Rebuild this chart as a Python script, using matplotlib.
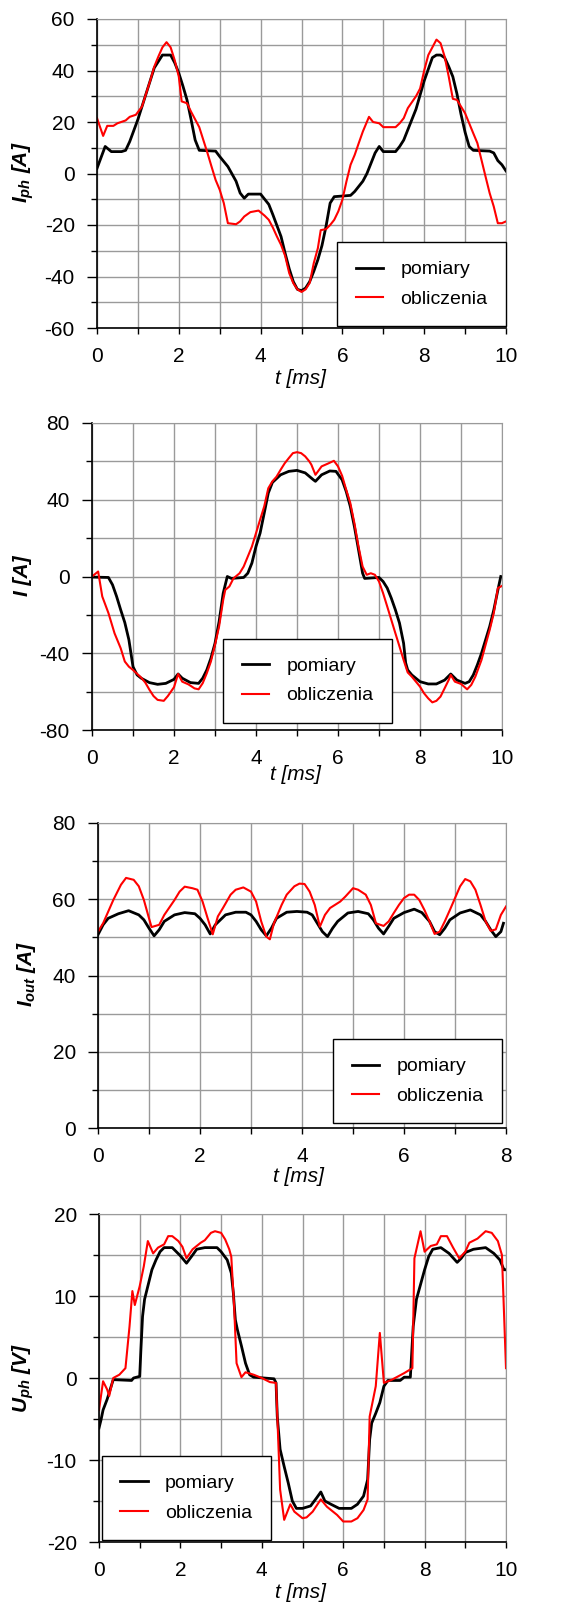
import matplotlib

matplotlib.use("Agg")
import matplotlib.pyplot as plt
from matplotlib.ticker import MultipleLocator

plt.rcParams["font.family"] = "Liberation Sans"
plt.rcParams["axes.unicode_minus"] = False
plt.rcParams["mathtext.fontset"] = "custom"
plt.rcParams["mathtext.it"] = "Liberation Sans:italic:bold"
plt.rcParams["mathtext.rm"] = "Liberation Sans:italic:bold"

# --- panel 1: phase current I_ph ---
t_iph_pom = [0, 0.2, 0.35, 0.6, 0.7, 0.8, 1.0, 1.2, 1.4, 1.6, 1.7, 1.8, 1.9, 2.0, 2.1, 2.2,
             2.3, 2.4, 2.5, 2.9, 3.0, 3.2, 3.4, 3.5, 3.6, 3.7, 4.0, 4.1, 4.2, 4.3, 4.5, 4.6,
             4.7, 4.8, 4.9, 5.0, 5.1, 5.2, 5.3, 5.4, 5.5, 5.6, 5.7, 5.8, 6.2, 6.3, 6.5, 6.6,
             6.7, 6.8, 6.9, 7.0, 7.3, 7.4, 7.5, 7.6, 7.8, 8.0, 8.2, 8.3, 8.4, 8.5, 8.6, 8.7,
             8.8, 8.9, 9.0, 9.1, 9.2, 9.6, 9.7, 9.8, 9.9, 10.0]
iph_pom = [2, 10.5, 8.5, 8.5, 9, 12.4, 21, 31, 41, 46, 46, 46, 43, 39, 34, 28.6,
           21, 13, 9, 8.7, 6.6, 2.7, -3, -7.6, -9.6, -8, -8, -10, -12, -16, -24.5, -31,
           -37, -42, -45, -45.5, -44.5, -42, -38, -33.5, -28, -20.5, -11.5, -9, -8.5, -7, -3, 0,
           4, 8, 10.5, 8.5, 8.5, 10.5, 13, 17, 25, 36, 45, 46, 46, 45, 41.5, 37.6,
           31, 23, 16, 10.5, 9, 8.7, 8, 5, 3.4, 1]
t_iph_obl = [0, 0.15, 0.25, 0.4, 0.5, 0.7, 0.8, 0.95, 1.1, 1.2, 1.3, 1.4, 1.5, 1.6, 1.7, 1.8,
             1.9, 2.0, 2.07, 2.2, 2.3, 2.5, 2.6, 2.7, 2.8, 2.9, 3.0, 3.1, 3.2, 3.4, 3.5, 3.6,
             3.75, 3.95, 4.1, 4.2, 4.3, 4.4, 4.5, 4.6, 4.7, 4.8, 4.9, 5.0, 5.1, 5.2, 5.3, 5.4,
             5.47, 5.6, 5.7, 5.8, 5.9, 6.0, 6.1, 6.2, 6.3, 6.4, 6.5, 6.65, 6.75, 6.9, 7.0, 7.3,
             7.4, 7.5, 7.6, 7.8, 7.9, 8.0, 8.1, 8.2, 8.3, 8.4, 8.5, 8.6, 8.7, 8.8, 8.9, 9.0,
             9.1, 9.2, 9.3, 9.4, 9.5, 9.6, 9.7, 9.8, 9.9, 10.0]
iph_obl = [21.5, 14.6, 18.5, 18.5, 19.5, 20.6, 22, 22.8, 26, 31, 36, 41.5, 45.4, 49, 51, 49,
           44, 37.6, 28, 27.3, 24, 18, 13, 8, 2.7, -2.5, -6.3, -11.5, -19.3, -19.7, -18.6, -16.7,
           -15, -14.4, -16.4, -18, -21, -24.5, -27.7, -32, -38.7, -42.6, -45, -46, -45, -42.5, -34.8, -29,
           -22, -21.6, -20, -18, -14.7, -10.2, -3, 3.4, 7.2, 11.8, 16.3, 22, 20, 19.5, 18, 18,
           19.5, 21.5, 25.4, 30, 33, 40, 46, 49, 52, 50.6, 45.4, 37.6, 29, 28.6, 26, 23.4,
           19.5, 15.6, 11.8, 5.3, -1.2, -7.6, -12.8, -19.3, -19.3, -18.6]

# --- panel 2: current I ---
t_i_pom = [0, 0.4, 0.5, 0.6, 0.7, 0.8, 0.9, 0.95, 1.0, 1.1, 1.2, 1.4, 1.6, 1.8, 2.0, 2.1,
           2.2, 2.4, 2.6, 2.7, 2.8, 2.9, 3.0, 3.1, 3.2, 3.3, 3.4, 3.7, 3.8, 3.9, 4.0, 4.1,
           4.2, 4.3, 4.4, 4.6, 4.8, 5.0, 5.2, 5.4, 5.45, 5.6, 5.8, 5.95, 6.1, 6.2, 6.3, 6.4,
           6.5, 6.6, 6.65, 7.0, 7.1, 7.2, 7.3, 7.4, 7.5, 7.6, 7.65, 7.7, 7.8, 8.0, 8.2, 8.4,
           8.6, 8.75, 8.9, 9.1, 9.2, 9.3, 9.4, 9.5, 9.6, 9.7, 9.8, 9.9, 9.97]
i_pom = [-0.3, -0.5, -4.3, -10.4, -17.4, -24, -33, -40, -47, -51.3, -53, -55.3, -56.2, -55.7, -53.6, -50.8,
         -53, -55.3, -55.7, -53, -48.7, -42.6, -34.8, -23.5, -8.7, 0, -1, -0.5, 1.7, 7, 15.7, 22.6,
         33, 43.5, 49, 53, 54.8, 55.3, 54, 50.4, 49.6, 53, 55, 54.8, 50.4, 44.3, 36.5, 26,
         14, 1.7, -1, -0.5, -2.6, -6, -11.3, -17.4, -24.3, -34.8, -45, -48.7, -51.3, -54.8, -56, -56,
         -54, -50.8, -54, -55.7, -54.8, -51.3, -46, -40, -33, -26, -17.4, -7, 0]
t_i_obl = [0, 0.15, 0.25, 0.4, 0.55, 0.7, 0.8, 0.9, 1.0, 1.2, 1.3, 1.4, 1.5, 1.6, 1.75, 1.85,
           2.0, 2.1, 2.2, 2.35, 2.5, 2.6, 2.7, 2.8, 2.9, 3.0, 3.1, 3.2, 3.25, 3.35, 3.45, 3.6,
           3.7, 3.8, 3.9, 4.0, 4.1, 4.2, 4.3, 4.4, 4.5, 4.6, 4.7, 4.8, 4.9, 5.0, 5.1, 5.2,
           5.3, 5.35, 5.45, 5.6, 5.75, 5.9, 6.0, 6.1, 6.2, 6.3, 6.4, 6.5, 6.6, 6.7, 6.8, 6.9,
           7.0, 7.1, 7.2, 7.3, 7.4, 7.5, 7.6, 7.7, 7.8, 7.9, 8.0, 8.1, 8.2, 8.3, 8.4, 8.5,
           8.6, 8.7, 8.75, 8.85, 9.0, 9.15, 9.25, 9.35, 9.5, 9.6, 9.7, 9.8, 9.9, 10.0]
i_obl = [0, 2.6, -10.4, -19, -29.6, -37.4, -44.3, -47, -48.7, -52.7, -55.3, -59, -62.3, -64.3, -64.8, -62.3,
         -57.7, -50.8, -54.8, -56.2, -58.3, -58.8, -55.6, -50.4, -44.3, -35.6, -26, -12.2, -7, -5.2, -1, 1.7,
         5.2, 10.4, 15.6, 22.6, 29.6, 36.5, 46, 49.6, 52, 55.6, 59, 61.7, 64.3, 64.8, 64.3, 62.6,
         60, 58.3, 53, 57.4, 58.8, 60.3, 57.4, 52.5, 45.2, 38.3, 27.8, 15.6, 5.2, 0.9, 1.7, 0.9,
         -2.6, -8.7, -15.6, -22.6, -29.6, -36.5, -43.5, -50, -52.2, -54.8, -57.4, -60.9, -63.5, -65.6, -64.8, -62.6,
         -58.3, -53.9, -51.3, -54.8, -56, -58.8, -56.5, -52.2, -43.5, -35.6, -27.8, -19, -6, -4.9]

# --- panel 3: output current I_out ---
t_iout_pom = [0, 0.1, 0.2, 0.4, 0.6, 0.8, 0.9, 1.0, 1.1, 1.2, 1.3, 1.5, 1.7, 1.9, 2.0, 2.1,
              2.2, 2.3, 2.5, 2.7, 2.9, 3.0, 3.1, 3.2, 3.3, 3.4, 3.5, 3.7, 3.9, 4.1, 4.2, 4.3,
              4.4, 4.5, 4.6, 4.7, 4.9, 5.1, 5.3, 5.4, 5.5, 5.6, 5.7, 5.8, 6.0, 6.2, 6.35, 6.5,
              6.6, 6.7, 6.8, 6.9, 7.1, 7.3, 7.5, 7.6, 7.7, 7.8, 7.9, 7.95]
iout_pom = [50.7, 53.3, 55, 56.2, 57, 55.9, 54.6, 52.4, 50.4, 52, 54.2, 55.9, 56.5, 56.2, 55, 53.3,
            50.9, 53.3, 55.9, 56.6, 56.6, 55.9, 54.2, 52, 50.4, 52.4, 55, 56.6, 56.8, 56.6, 55.9, 53.7,
            51.5, 50.2, 52.4, 54.2, 56.4, 56.8, 56.2, 54.6, 52.4, 50.9, 52.9, 55, 56.5, 57.4, 56.5, 54.2,
            51.5, 50.7, 52.4, 54.6, 56.4, 57.2, 55.9, 54.2, 52, 50.2, 51.5, 53.7]
t_iout_obl = [0, 0.1, 0.3, 0.45, 0.55, 0.7, 0.8, 0.9, 1.0, 1.05, 1.2, 1.3, 1.5, 1.6, 1.7, 1.85,
              1.95, 2.05, 2.15, 2.25, 2.35, 2.45, 2.6, 2.7, 2.85, 3.0, 3.1, 3.2, 3.3, 3.37, 3.45, 3.6,
              3.7, 3.85, 3.95, 4.05, 4.15, 4.25, 4.35, 4.45, 4.55, 4.75, 4.85, 5.0, 5.1, 5.25, 5.35, 5.45,
              5.6, 5.7, 5.8, 5.9, 6.0, 6.1, 6.2, 6.3, 6.4, 6.5, 6.6, 6.7, 6.8, 6.9, 7.0, 7.1,
              7.2, 7.3, 7.4, 7.5, 7.6, 7.7, 7.8, 7.9, 8.0]
iout_obl = [51.5, 53.7, 59.8, 63.8, 65.6, 65.1, 63.4, 59.8, 55, 52.7, 53.3, 55.9, 59.8, 62, 63.3, 62.9,
            62.5, 59.4, 55, 50.8, 55.5, 57.7, 61.2, 62.5, 63.1, 62, 59.4, 54.2, 50.2, 49.5, 53.7, 58.5,
            61.2, 63.4, 64.1, 64, 62, 58.5, 52.8, 55.9, 57.7, 59.4, 60.7, 62.9, 62.5, 61.2, 58.5, 53.7,
            53, 54.2, 56.4, 58.5, 60.3, 61.2, 61.2, 59.8, 57.2, 54.2, 50.9, 51.5, 54.2, 57.2, 60.3, 63.4,
            65.3, 64.7, 62.5, 58.5, 54.2, 51.7, 52.1, 55.9, 58.1]

# --- panel 4: phase voltage U_ph ---
t_uph_pom = [0, 0.05, 0.1, 0.2, 0.3, 0.35, 0.8, 0.85, 1.0, 1.03, 1.07, 1.12, 1.2, 1.3, 1.4, 1.5,
             1.6, 1.8, 1.9, 2.0, 2.15, 2.3, 2.4, 2.6, 2.9, 3.0, 3.15, 3.25, 3.3, 3.35, 3.4, 3.5,
             3.6, 3.7, 3.8, 4.3, 4.35, 4.38, 4.45, 4.55, 4.65, 4.75, 4.85, 5.0, 5.2, 5.35, 5.45, 5.55,
             5.7, 5.9, 6.2, 6.35, 6.5, 6.6, 6.65, 6.7, 6.8, 6.9, 7.0, 7.1, 7.4, 7.5, 7.65, 7.72,
             7.8, 7.9, 8.0, 8.1, 8.2, 8.4, 8.6, 8.8, 8.9, 9.0, 9.2, 9.5, 9.7, 9.85, 9.95, 9.98]
uph_pom = [-6.1, -5.1, -3.9, -2.6, -1, -0.2, -0.3, 0, 0.2, 3.5, 7.5, 9.6, 11.2, 13.2, 14.4, 15.4,
           15.9, 15.9, 15.4, 14.9, 14, 15, 15.7, 15.9, 15.9, 15.4, 14.4, 12.8, 10.4, 7.1, 5.9, 3.9,
           1.8, 0.4, 0.1, -0.1, -0.6, -4.7, -8.7, -10.8, -12.8, -15, -15.9, -15.9, -15.6, -14.6, -13.9, -15,
           -15.4, -15.9, -15.9, -15.4, -14.4, -12.4, -7.5, -5.5, -4.3, -3, -1, -0.3, -0.3, 0.1, 0.1, 6.3,
           9.6, 11.4, 13.2, 14.8, 15.7, 15.9, 15.2, 14.1, 14.6, 15.3, 15.7, 15.9, 15.2, 14.4, 13.2, 13.2]
t_uph_obl = [0, 0.1, 0.2, 0.25, 0.35, 0.5, 0.65, 0.75, 0.82, 0.88, 1.0, 1.1, 1.2, 1.33, 1.45, 1.6,
             1.7, 1.8, 1.95, 2.05, 2.15, 2.3, 2.5, 2.6, 2.75, 2.85, 3.0, 3.1, 3.2, 3.25, 3.32, 3.38,
             3.5, 3.6, 3.8, 4.0, 4.2, 4.35, 4.45, 4.55, 4.7, 4.8, 5.0, 5.1, 5.25, 5.45, 5.6, 5.85,
             6.0, 6.2, 6.35, 6.5, 6.6, 6.65, 6.8, 6.9, 7.0, 7.2, 7.5, 7.7, 7.75, 7.9, 8.0, 8.15,
             8.3, 8.4, 8.55, 8.7, 8.85, 9.0, 9.1, 9.3, 9.5, 9.65, 9.8, 9.9, 10.0]
uph_obl = [-3.9, -0.4, -1.4, -2.2, 0, 0.4, 1.2, 6.3, 10.6, 8.9, 11.2, 13.6, 16.7, 15.2, 15.9, 16.3,
           17.3, 17.3, 16.7, 16, 14.6, 15.7, 16.5, 16.8, 17.7, 17.9, 17.7, 16.9, 15.7, 14.8, 8.7, 1.8,
           0.1, 0.7, 0.4, 0, -0.5, -0.6, -13.6, -17.3, -15.4, -16.3, -17.1, -17, -16.3, -14.8, -15.7, -16.7,
           -17.5, -17.5, -17.1, -16.1, -14.8, -4.7, -1, 5.5, -0.6, -0.2, 0.6, 1.2, 14.6, 17.9, 15.4, 16.1,
           16.3, 17.3, 17.3, 15.9, 14.6, 15.4, 16.5, 17, 17.9, 17.7, 16.7, 15, 1.2]

W, H = 582, 1605
fig = plt.figure(figsize=(W / 100, H / 100), dpi=100)


def px_axes(x0, y0, x1, y1):
    return fig.add_axes([x0 / W, 1 - y1 / H, (x1 - x0) / W, (y1 - y0) / H])


def style(ax, xmax, xmaj, ymin, ymax, ymaj, ymin_step):
    ax.set_xlim(0, xmax)
    ax.set_ylim(ymin, ymax)
    ax.xaxis.set_major_locator(MultipleLocator(xmaj))
    ax.xaxis.set_minor_locator(MultipleLocator(1))
    ax.yaxis.set_major_locator(MultipleLocator(ymaj))
    ax.yaxis.set_minor_locator(MultipleLocator(ymin_step))
    ax.grid(True, which="both", color="#9a9a9a", lw=1.0)
    ax.set_axisbelow(True)
    for s in ("top", "right"):
        ax.spines[s].set_color("#9a9a9a")
    for s in ("left", "bottom"):
        ax.spines[s].set_color("black")
        ax.spines[s].set_linewidth(1.2)
    ax.tick_params(axis="y", which="major", length=7, width=1, pad=9, labelsize=15)
    ax.tick_params(axis="y", which="minor", length=4, width=1)
    ax.tick_params(axis="x", which="both", length=4, width=1, pad=10, labelsize=15)


def draw(ax, tp, yp, to, yo, loc, anchor):
    ax.plot(tp, yp, color="black", lw=2.0, label="pomiary")
    ax.plot(to, yo, color="#ff0000", lw=1.5, label="obliczenia")
    leg = ax.legend(loc=loc, bbox_to_anchor=anchor, borderaxespad=0, fontsize=14,
                    handlelength=1.4, handletextpad=0.9, borderpad=0.95, labelspacing=0.6,
                    fancybox=False, framealpha=1, edgecolor="black")
    leg.get_frame().set_linewidth(1.0)


ax1 = px_axes(97, 19, 506, 328)
style(ax1, 10, 2, -60, 60, 20, 10)
draw(ax1, t_iph_pom, iph_pom, t_iph_obl, iph_obl, "lower right", (1.0, 0.006))

ax2 = px_axes(92, 423, 502, 730)
style(ax2, 10, 2, -80, 80, 40, 20)
draw(ax2, t_i_pom, i_pom, t_i_obl, i_obl, "lower right", (0.732, 0.023))

ax3 = px_axes(98, 823, 506, 1128)
style(ax3, 8, 2, 0, 80, 20, 10)
draw(ax3, t_iout_pom, iout_pom, t_iout_obl, iout_obl, "lower right", (0.99, 0.016))

ax4 = px_axes(99, 1214, 506, 1542)
style(ax4, 10, 2, -20, 20, 10, 5)
draw(ax4, t_uph_pom, uph_pom, t_uph_obl, uph_obl, "lower left", (0.007, 0.006))

# axis labels
ylab = dict(rotation=90, ha="center", va="center", fontsize=15,
            fontweight="bold", style="italic")
fig.text(23 / W, 1 - 172 / H, r"$I_{ph}$ [A]", **ylab)
fig.text(23 / W, 1 - 576 / H, "I [A]", **ylab)
fig.text(27 / W, 1 - 974 / H, r"$I_{out}$ [A]", **ylab)
fig.text(23 / W, 1 - 1378 / H, r"$U_{ph}$ [V]", **ylab)

xlab = dict(ha="center", va="center", fontsize=15, style="italic")
fig.text(300 / W, 1 - 378 / H, "t [ms]", **xlab)
fig.text(295 / W, 1 - 775 / H, "t [ms]", **xlab)
fig.text(298 / W, 1 - 1177 / H, "t [ms]", **xlab)
fig.text(300 / W, 1 - 1593 / H, "t [ms]", **xlab)

fig.savefig("out.png", dpi=100)
